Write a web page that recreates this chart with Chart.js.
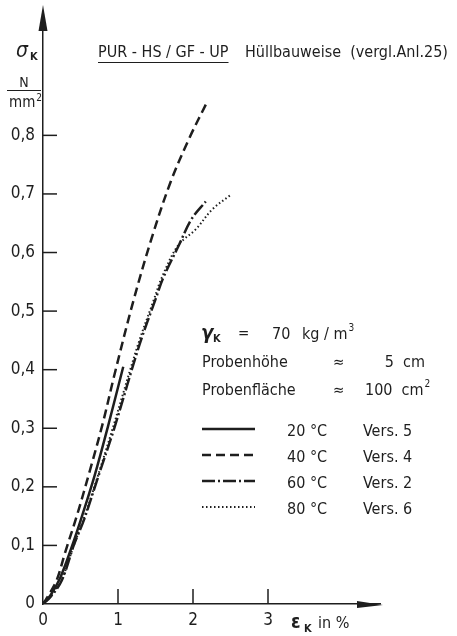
<!DOCTYPE html>
<html>
<head>
<meta charset="utf-8">
<script src="https://cdn.jsdelivr.net/npm/chart.js@4/dist/chart.umd.min.js"></script>
<style>
  html, body { margin: 0; padding: 0; background: #fff; }
  #wrap { width: 457px; height: 636px; position: relative; }
</style>
</head>
<body>
<div id="wrap"><canvas id="chart"></canvas></div>
<script>
// strain eps_K in %, stress sigma_K in N/mm2
const strain20 = [0, 0.1, 0.23, 0.39, 0.52, 0.69, 0.87, 1.07];
const stress20 = [0, 0.015, 0.045, 0.1, 0.15, 0.22, 0.305, 0.405];

const strain40 = [0, 0.05, 0.18, 0.3, 0.45, 0.63, 0.8, 0.95, 1.2, 1.45, 1.7, 1.95, 2.2];
const stress40 = [0, 0.01, 0.04, 0.09, 0.15, 0.23, 0.31, 0.39, 0.515, 0.625, 0.72, 0.795, 0.86];

const strain60 = [0, 0.1, 0.25, 0.41, 0.55, 0.73, 0.95, 1.29, 1.5, 1.6, 1.81, 1.98, 2.17];
const stress60 = [0, 0.012, 0.04, 0.1, 0.145, 0.215, 0.3, 0.444, 0.52, 0.556, 0.612, 0.657, 0.687];

const strain80 = [0, 0.1, 0.25, 0.41, 0.55, 0.73, 0.93, 1.27, 1.48, 1.58, 1.8, 2.04, 2.26, 2.51];
const stress80 = [0, 0.013, 0.042, 0.1, 0.148, 0.218, 0.3, 0.444, 0.52, 0.556, 0.612, 0.64, 0.674, 0.699];

const temps = ["20 °C", "40 °C", "60 °C", "80 °C"];
const versuche = ["Vers. 5", "Vers. 4", "Vers. 2", "Vers. 6"];

const yTicks = [0, 0.1, 0.2, 0.3, 0.4, 0.5, 0.6, 0.7, 0.8];
const xTicks = [0, 1, 2, 3];

const ink = "#1e1e1e";
const fontFam = "'DejaVu Sans Condensed', 'Liberation Sans Narrow', 'DejaVu Sans', sans-serif";

function toPoints(xs, ys) {
  return xs.map((x, i) => ({ x: x, y: ys[i] }));
}

const dashes = [[], [9, 5], [13, 3, 2, 3], [1.5, 2.5]];
const series = [
  toPoints(strain20, stress20),
  toPoints(strain40, stress40),
  toPoints(strain60, stress60),
  toPoints(strain80, stress80)
];

const datasets = series.map((pts, i) => ({
  label: temps[i],
  data: pts,
  borderColor: ink,
  borderWidth: i === 3 ? 2 : 2.5,
  borderDash: dashes[i],
  pointRadius: 0,
  tension: 0.35,
  fill: false
}));

function txt(ctx, s, x, y, size, opts) {
  opts = opts || {};
  ctx.font = (opts.style || "") + " " + (opts.weight || "normal") + " " + size + "px " + (opts.family || fontFam);
  ctx.textAlign = opts.align || "left";
  ctx.textBaseline = "alphabetic";
  ctx.fillText(s, x, y);
  return ctx.measureText(s).width;
}

const decoPlugin = {
  id: "deco",
  afterDraw(chart) {
    const ctx = chart.ctx;
    const xs = chart.scales.x, ys = chart.scales.y;
    const x0 = xs.getPixelForValue(0), y0 = ys.getPixelForValue(0);
    ctx.save();
    ctx.fillStyle = ink;
    ctx.strokeStyle = ink;
    ctx.lineWidth = 1.5;

    // ticks inside the axes
    yTicks.forEach(v => {
      if (v === 0) return;
      const p = ys.getPixelForValue(v);
      ctx.beginPath(); ctx.moveTo(x0, p); ctx.lineTo(x0 + 14, p); ctx.stroke();
    });
    xTicks.forEach(v => {
      if (v === 0) return;
      const p = xs.getPixelForValue(v);
      ctx.beginPath(); ctx.moveTo(p, y0); ctx.lineTo(p, y0 - 15); ctx.stroke();
    });

    // arrow heads
    ctx.beginPath();
    ctx.moveTo(x0, 5); ctx.lineTo(x0 - 4.5, 31); ctx.lineTo(x0 + 4.5, 31); ctx.closePath(); ctx.fill();
    ctx.beginPath();
    ctx.moveTo(383, y0 + 1); ctx.lineTo(357, y0 - 3); ctx.lineTo(357, y0 + 4); ctx.closePath(); ctx.fill();

    // y axis name
    txt(ctx, "σ", 16, 57, 21, { style: "italic" });
    txt(ctx, "K", 30, 60, 11, { weight: "bold" });
    txt(ctx, "N", 24, 87, 14, { align: "center" });
    ctx.lineWidth = 1.2;
    ctx.beginPath(); ctx.moveTo(7, 90.5); ctx.lineTo(41, 90.5); ctx.stroke();
    const wmm = txt(ctx, "mm", 9, 107, 15);
    txt(ctx, "2", 9 + wmm + 1, 101, 10);

    // x axis name
    txt(ctx, "ε", 291, 628, 19, { weight: "bold" });
    txt(ctx, "K", 304, 632, 11, { weight: "bold" });
    txt(ctx, "in %", 318, 628, 16);

    // title
    const w1 = txt(ctx, "PUR - HS / GF - UP", 98, 57, 16);
    ctx.lineWidth = 1.2;
    ctx.beginPath(); ctx.moveTo(98, 62.5); ctx.lineTo(98 + w1, 62.5); ctx.stroke();
    txt(ctx, "Hüllbauweise  (vergl.Anl.25)", 245, 57, 16);

    // specimen data
    txt(ctx, "γ", 201, 339, 20, { weight: "bold", style: "italic" });
    txt(ctx, "K", 213, 342, 11, { weight: "bold" });
    txt(ctx, "=", 238, 338, 15);
    txt(ctx, "70", 272, 339, 16);
    const wkg = txt(ctx, "kg / m", 302, 339, 16);
    txt(ctx, "3", 302 + wkg + 1, 331, 10);

    txt(ctx, "Probenhöhe", 202, 367, 16);
    txt(ctx, "≈", 333, 367, 15);
    txt(ctx, "5  cm", 425, 367, 16, { align: "right" });

    txt(ctx, "Probenfläche", 202, 395, 16);
    txt(ctx, "≈", 333, 395, 15);
    const wcm = txt(ctx, "100  cm", 365, 395, 16);
    txt(ctx, "2", 365 + wcm + 1, 387, 10);

    // legend
    const rows = [429, 455, 481, 507];
    rows.forEach((ry, i) => {
      const ds = chart.data.datasets[i];
      ctx.lineWidth = ds.borderWidth;
      ctx.setLineDash(ds.borderDash);
      ctx.beginPath(); ctx.moveTo(202, ry); ctx.lineTo(255, ry); ctx.stroke();
      ctx.setLineDash([]);
      txt(ctx, temps[i], 287, ry + 7, 16);
      txt(ctx, versuche[i], 363, ry + 7, 16);
    });
    ctx.restore();
  }
};

const chart = new Chart(document.getElementById("chart").getContext("2d"), {
  type: "line",
  data: { datasets: datasets },
  options: {
    responsive: true,
    maintainAspectRatio: false,
    animation: false,
    events: [],
    layout: { padding: { left: 0, right: 76.5, top: 9, bottom: 0 } },
    plugins: { legend: { display: false }, title: { display: false }, tooltip: { enabled: false } },
    scales: {
      x: {
        type: "linear",
        min: 0,
        max: 4.5,
        grid: { display: false, drawTicks: false },
        border: { display: true, color: ink, width: 1.5 },
        afterBuildTicks: s => { s.ticks = xTicks.map(v => ({ value: v })); },
        afterFit: s => { s.height = 32; },
        ticks: {
          color: ink,
          padding: 6,
          maxRotation: 0,
          font: { family: fontFam, size: 17 },
          callback: v => String(v)
        }
      },
      y: {
        type: "linear",
        min: 0,
        max: 1.0,
        grid: { display: false, drawTicks: false },
        border: { display: true, color: ink, width: 1.5 },
        afterBuildTicks: s => { s.ticks = yTicks.map(v => ({ value: v })); },
        afterFit: s => { s.width = 43; },
        ticks: {
          color: ink,
          padding: 8,
          font: { family: fontFam, size: 17 },
          callback: v => (v === 0 ? "0" : v.toFixed(1).replace(".", ","))
        }
      }
    }
  },
  plugins: [decoPlugin]
});
</script>
</body>
</html>
